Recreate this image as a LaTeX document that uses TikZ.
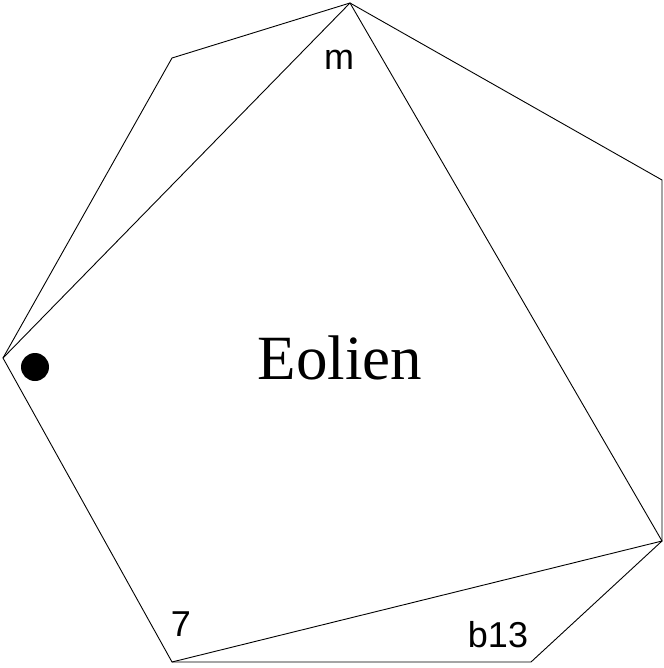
\documentclass[tikz,border=0pt]{standalone}
\usepackage{fontspec}
\setmainfont{Liberation Serif}
\newfontfamily\arialfont{Liberation Sans}
\begin{document}
\begin{tikzpicture}[x=1pt,y=-1pt,line width=0.9pt,
  edge/.style={draw=black,line join=miter},
  lbl/.style={font=\arialfont\fontsize{36}{42}\selectfont,anchor=base,inner sep=0pt},
  title/.style={font=\fontsize{63}{70}\selectfont,anchor=base,inner sep=0pt}]
\useasboundingbox (0,0) rectangle (663,668);
\coordinate (T) at (350,3);
\coordinate (UL) at (172,58);
\coordinate (L) at (3,358);
\coordinate (BL) at (172,662);
\coordinate (BR) at (531,662);
\coordinate (RB) at (662,541);
\coordinate (RT) at (662,180);
\draw[edge] (T) -- (RT) -- (RB) -- (BR) -- (BL) -- (L) -- (UL) -- cycle;
\draw[edge] (L) -- (T) -- (RB) -- (BL);
\fill (35,367) circle (14);
\node[title] (eolien) at (340,379) {Eolien};
\node[lbl] (m) at (339,70) {m};
\node[lbl] (seven) at (181,636) {7};
\node[lbl] (b13) at (498,647) {b13};
\end{tikzpicture}
\end{document}
